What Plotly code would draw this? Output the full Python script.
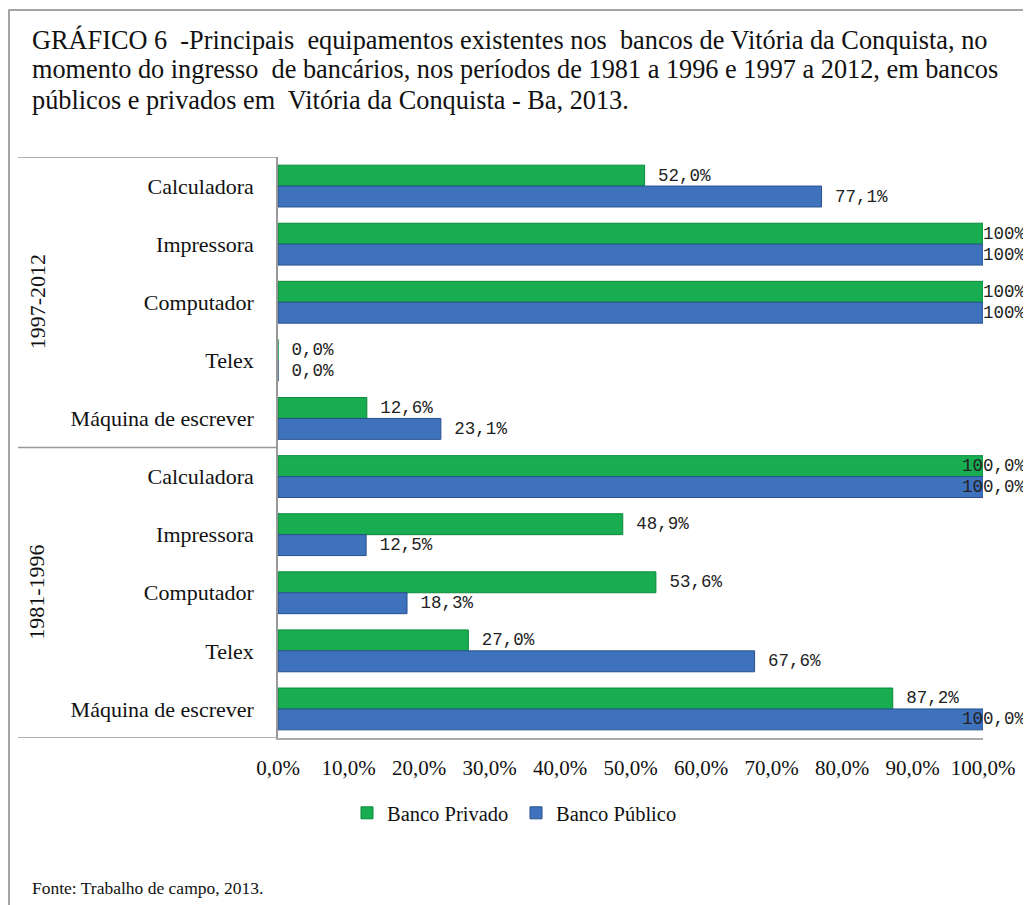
import plotly.graph_objects as go

periods = ["1997-2012", "1981-1996"]
equipment = ["Calculadora", "Impressora", "Computador", "Telex", "Máquina de escrever"]

# values listed top to bottom: 1997-2012 block then 1981-1996 block
privado = [52.0, 100, 100, 0.0, 12.6, 100.0, 48.9, 53.6, 27.0, 87.2]
publico = [77.1, 100, 100, 0.0, 23.1, 100.0, 12.5, 18.3, 67.6, 100.0]
privado_labels = ["52,0%", "100%", "100%", "0,0%", "12,6%", "100,0%", "48,9%", "53,6%", "27,0%", "87,2%"]
publico_labels = ["77,1%", "100%", "100%", "0,0%", "23,1%", "100,0%", "12,5%", "18,3%", "67,6%", "100,0%"]

x_ticks = [0, 10, 20, 30, 40, 50, 60, 70, 80, 90, 100]
x_tick_labels = ["0,0%", "10,0%", "20,0%", "30,0%", "40,0%", "50,0%", "60,0%", "70,0%", "80,0%", "90,0%", "100,0%"]

title_lines = ["GRÁFICO 6  -Principais  equipamentos existentes nos  bancos de Vitória da Conquista, no",
               "momento do ingresso  de bancários, nos períodos de 1981 a 1996 e 1997 a 2012, em bancos",
               "públicos e privados em  Vitória da Conquista - Ba, 2013."]
source_text = "Fonte: Trabalho de campo, 2013."

FONT = "Liberation Serif"
LFONT = "Liberation Mono"
# figure coordinates (the page adds an 8px body margin)
W, H = 1031, 905
ML, MR, MT, MB = 270, 56, 149, 175
PW, PH = W - ML - MR, H - MT - MB


def px_x(x):
    return (x - ML) / PW


def px_y(y):
    return (H - MB - y) / PH


cat_labels = [e for p in periods for e in equipment]
ypos = list(range(len(cat_labels)))
BARGAP = 0.28
half = (1 - BARGAP) / 4  # offset of each bar centre from category centre

series = [("Banco Privado", privado, privado_labels, "#17ad50", "#0d8a3c", -half),
          ("Banco Público", publico, publico_labels, "#3f72bd", "#28508c", half)]

fig = go.Figure()
annotations = []
for name, vals, labels, col, lcol, off in series:
    txt = []
    for v, lab, yp in zip(vals, labels, ypos):
        if v >= 100:
            # label pulled back so it stays inside the chart area
            txt.append("")
            annotations.append(dict(text=lab, xref="x", yref="y", x=v, y=yp + off,
                                    xanchor="right", yanchor="middle", xshift=45, showarrow=False,
                                    font=dict(family=LFONT, size=17.5, color="#222")))
        else:
            txt.append(" " + lab)
    fig.add_trace(go.Bar(
        y=ypos, x=vals, orientation="h", name=name,
        marker=dict(color=col, line=dict(color=lcol, width=1)),
        text=txt, textposition="outside", cliponaxis=False,
        constraintext="none", textfont=dict(family=LFONT, size=17.5, color="#222"),
    ))

n = len(equipment)
shapes = []
for b in [-0.5, n - 0.5, 2 * n - 0.5]:
    shapes.append(dict(type="line", xref="paper", yref="y", x0=px_x(10), x1=0, y0=b, y1=b,
                       line=dict(color="#999", width=1.5)))
shapes.append(dict(type="rect", xref="paper", yref="paper", x0=px_x(1), x1=px_x(1045),
                   y0=px_y(920), y1=px_y(2),
                   line=dict(color="#888", width=1.5), fillcolor="rgba(0,0,0,0)"))

for i, p in enumerate(periods):
    annotations.append(dict(text=p, xref="paper", yref="y", x=px_x(29), y=i * n + (n - 1) / 2,
                            xanchor="center", yanchor="middle",
                            textangle=-90, showarrow=False, font=dict(family=FONT, size=22, color="#111")))
for k, line in enumerate(title_lines):
    annotations.append(dict(text=line, xref="paper", yref="paper", x=px_x(22), y=px_y(32 + 30 * k),
                            xanchor="left", yanchor="middle", showarrow=False,
                            font=dict(family=FONT, size=26.3, color="#111")))
annotations.append(dict(text=source_text, xref="paper", yref="paper", x=px_x(22), y=px_y(880),
                        xanchor="left", yanchor="middle", showarrow=False,
                        font=dict(family=FONT, size=17.5, color="#111")))

fig.update_layout(
    width=W, height=H,
    margin=dict(l=ML, r=MR, t=MT, b=MB),
    paper_bgcolor="white", plot_bgcolor="white",
    barmode="group", bargap=BARGAP, bargroupgap=0,
    font=dict(family=FONT, color="#111"),
    xaxis=dict(range=[0, 100], tickvals=x_ticks, ticktext=x_tick_labels, showgrid=False,
               zeroline=False, showline=True, linecolor="#aaa", linewidth=1.5,
               tickfont=dict(family=FONT, size=21, color="#111"), ticks="", ticklabelstandoff=10),
    yaxis=dict(tickvals=ypos, ticktext=cat_labels, range=[len(cat_labels) - 0.5, -0.5],
               showgrid=False, zeroline=False, showline=True, linecolor="#999", linewidth=1.5,
               tickfont=dict(family=FONT, size=22, color="#111"), ticks="", ticklabelstandoff=18),
    legend=dict(orientation="h", x=px_x(339), y=px_y(805), xanchor="left", yanchor="middle",
                itemwidth=30, entrywidth=124, entrywidthmode="pixels",
                font=dict(family=FONT, size=20.5, color="#111"), traceorder="normal"),
    shapes=shapes, annotations=annotations, showlegend=True,
)

fig.write_html("out.html")
